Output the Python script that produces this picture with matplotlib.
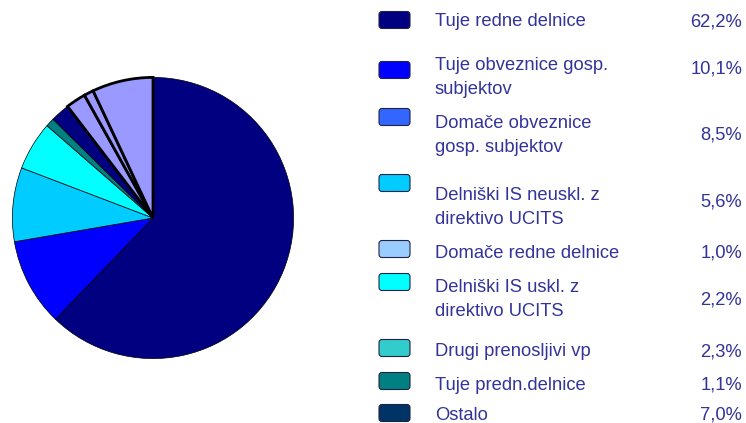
import numpy as np
import matplotlib
matplotlib.use('Agg')
from matplotlib import pyplot as plt
from matplotlib.patches import FancyBboxPatch

# %% data
labels = ['Tuje redne delnice', 'Tuje obveznice gosp.\nsubjektov', 'Domače obveznice\ngosp. subjektov',
          'Delniški IS neuskl. z\ndirektivo UCITS', 'Domače redne delnice', 'Delniški IS uskl. z\ndirektivo UCITS',
          'Drugi prenosljivi vp', 'Tuje predn.delnice', 'Ostalo']
values = [62.2, 10.1, 8.5, 5.6, 1.0, 2.2, 2.3, 1.1, 7.0]
pct_labels = ['62,2%', '10,1%', '8,5%', '5,6%', '1,0%', '2,2%', '2,3%', '1,1%', '7,0%']
pie_colors = ['#000080', '#0000FF', '#00CCFF', '#00FFFF', '#008080', '#000080', '#9999FF', '#9999FF', '#9999FF']
legend_colors = ['#000080', '#0000FF', '#3366FF', '#00CCFF', '#99CCFF', '#00FFFF', '#33CCCC', '#008080', '#003366']

# layout of legend rows (pixel y): swatch, text block centre, percent
swatch_y = [20, 70, 117, 183, 249, 282, 348, 381, 413]
text_y = [20, 75, 134, 205, 251, 298, 350, 383, 413]
pct_y = [20, 67, 133, 200, 251, 298, 350, 383, 413]

W, H = 746, 423
fig = plt.figure(figsize=(W / 100, H / 100), dpi=100)

# %% pie
cx, cy, r = 153, 218, 142
ax = fig.add_axes([(cx - r) / W, (H - cy - r) / H, 2 * r / W, 2 * r / H])
wedges, _ = ax.pie(values, colors=pie_colors, startangle=90, counterclock=False,
                   wedgeprops=dict(edgecolor='black', linewidth=0.5))
for w in wedges[6:]:
    w.set_linewidth(2.0)
ax.set_xlim(-1.01, 1.01)
ax.set_ylim(-1.01, 1.01)
ax.set_aspect('equal')

# %% legend
lax = fig.add_axes([0, 0, 1, 1])
lax.set_xlim(0, W)
lax.set_ylim(H, 0)
lax.axis('off')
txt_col = '#333399'
fs = 13.2
line_gap = 24
for i in range(len(labels)):
    sw = FancyBboxPatch((379, swatch_y[i] - 8.5), 31, 17, boxstyle='round,pad=0,rounding_size=3',
                        facecolor=legend_colors[i], edgecolor='#222244', linewidth=0.8)
    lax.add_patch(sw)
    lines = labels[i].split('\n')
    y0 = text_y[i] - line_gap * (len(lines) - 1) / 2
    for k, line in enumerate(lines):
        lax.text(435, y0 + k * line_gap + 6.5, line, color=txt_col, fontsize=fs,
                 family='Liberation Sans', va='baseline', ha='left')
    lax.text(742, pct_y[i] + 6.5, pct_labels[i], color=txt_col, fontsize=fs,
             family='Liberation Sans', va='baseline', ha='right')

fig.savefig('out.png', dpi=100)
